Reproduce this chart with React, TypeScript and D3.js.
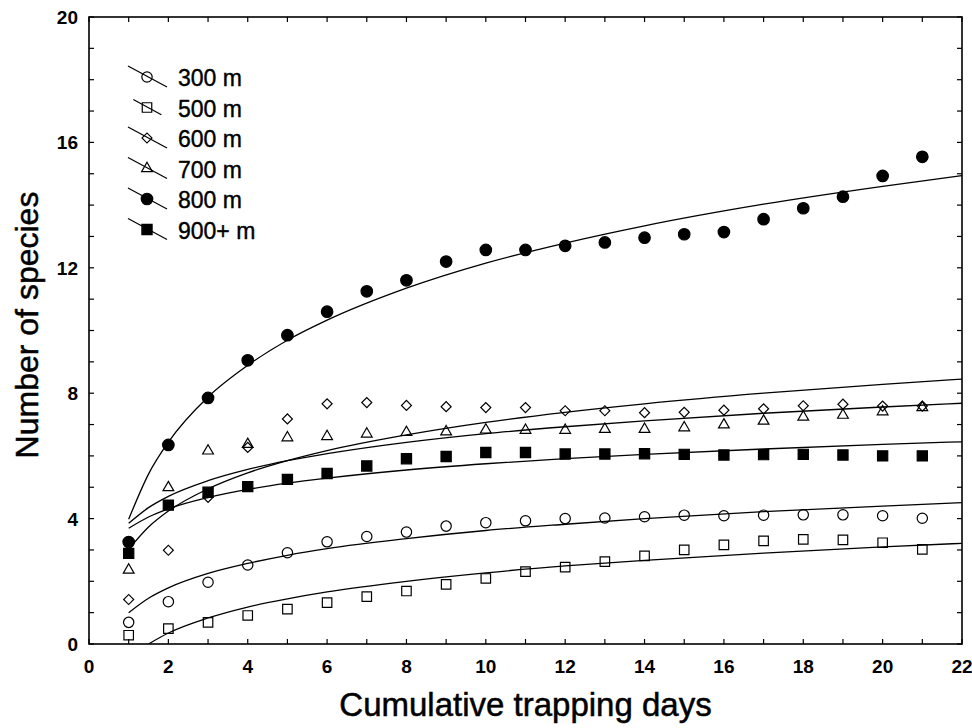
import * as d3 from "d3";

// observed cumulative species counts, day 1..21
const days = [1, 2, 3, 4, 5, 6, 7, 8, 9, 10, 11, 12, 13, 14, 15, 16, 17, 18, 19, 20, 21];

const s300 = [0.69, 1.35, 1.97, 2.52, 2.91, 3.26, 3.43, 3.57, 3.76, 3.87, 3.93, 4.0, 4.02, 4.06, 4.11, 4.09, 4.11, 4.12, 4.12, 4.09, 4.01];
const s500 = [0.28, 0.49, 0.69, 0.91, 1.11, 1.32, 1.51, 1.69, 1.9, 2.09, 2.31, 2.45, 2.63, 2.81, 3.0, 3.16, 3.29, 3.34, 3.32, 3.23, 3.02];
const s600 = [1.42, 2.99, 4.68, 6.27, 7.18, 7.66, 7.7, 7.61, 7.57, 7.54, 7.54, 7.44, 7.44, 7.38, 7.39, 7.46, 7.5, 7.6, 7.65, 7.59, 7.59];
const s700 = [2.36, 4.99, 6.16, 6.37, 6.58, 6.62, 6.7, 6.75, 6.77, 6.83, 6.82, 6.82, 6.85, 6.85, 6.9, 6.99, 7.11, 7.24, 7.3, 7.41, 7.54];
const s800 = [3.25, 6.35, 7.85, 9.05, 9.85, 10.6, 11.25, 11.6, 12.2, 12.57, 12.57, 12.7, 12.81, 12.96, 13.07, 13.14, 13.55, 13.9, 14.27, 14.93, 15.54];
const s900 = [2.89, 4.43, 4.84, 5.02, 5.25, 5.44, 5.68, 5.91, 5.98, 6.11, 6.11, 6.06, 6.06, 6.07, 6.05, 6.03, 6.04, 6.05, 6.03, 6.0, 6.0];

// fitted curves at these days
const fitDays = [1, 1.5, 2, 3, 4, 5, 6, 8, 10, 12, 14, 17, 20, 22];
const f300 = [1.0, 1.46, 1.79, 2.25, 2.57, 2.83, 3.04, 3.36, 3.62, 3.82, 4.0, 4.22, 4.4, 4.51];
const f500 = [null, 0.0, 0.35, 0.83, 1.18, 1.44, 1.66, 2.0, 2.27, 2.49, 2.67, 2.9, 3.1, 3.21];
const f600 = [3.02, 3.73, 4.24, 4.95, 5.46, 5.85, 6.17, 6.67, 7.07, 7.39, 7.66, 8.0, 8.28, 8.45];
const f700 = [3.85, 4.35, 4.71, 5.21, 5.57, 5.85, 6.07, 6.43, 6.71, 6.93, 7.12, 7.36, 7.56, 7.68];
const f800 = [3.98, 5.42, 6.44, 7.88, 8.89, 9.69, 10.33, 11.35, 12.15, 12.79, 13.34, 14.03, 14.6, 14.94];
const f900 = [3.69, 4.05, 4.31, 4.67, 4.93, 5.13, 5.29, 5.55, 5.75, 5.91, 6.05, 6.22, 6.37, 6.45];

const seriesNames = ["300 m", "500 m", "600 m", "700 m", "800 m", "900+ m"];
const xTickLabels = [0, 2, 4, 6, 8, 10, 12, 14, 16, 18, 20, 22];
const yTickLabels = [0, 4, 8, 12, 16, 20];

const W = 972;
const H = 728;
const font = "'Liberation Sans', Arial, sans-serif";

// marker styles
const markers = [
  { type: d3.symbolCircle, size: 84, filled: false, rot: 0 },
  { type: d3.symbolSquare, size: 90, filled: false, rot: 0 },
  { type: d3.symbolSquare, size: 50, filled: false, rot: 45 },
  { type: d3.symbolTriangle, size: 50, filled: false, rot: 0 },
  { type: d3.symbolCircle, size: 104, filled: true, rot: 0 },
  { type: d3.symbolSquare, size: 104, filled: true, rot: 0 },
];
const legendSpan = [1, 0.72, 1, 1, 1, 1];

export default function App() {
  const x = d3.scaleLinear([0, 22], [89, 962]);
  const y = d3.scaleLinear([0, 20], [644, 17]);

  const observed = [s300, s500, s600, s700, s800, s900];
  const fits = [f300, f500, f600, f700, f800, f900];

  const line = d3
    .line<[number, number | null]>()
    .defined((d) => d[1] != null)
    .x((d) => x(d[0]))
    .y((d) => y(d[1] as number))
    .curve(d3.curveMonotoneX);

  const symPath = (i: number) => d3.symbol().type(markers[i].type).size(markers[i].size)()!;

  const ticksX = d3.range(0, 23);
  const ticksY = d3.range(0, 21);
  const tl = 5;

  const marker = (i: number, cx: number, cy: number, key: string) => (
    <path
      key={key}
      d={symPath(i)}
      transform={`translate(${cx},${cy}) rotate(${markers[i].rot})`}
      fill={markers[i].filled ? "#000" : "none"}
      stroke="#000"
      strokeWidth={1.2}
    />
  );

  return (
    <svg width={W} height={H} style={{ position: "absolute", left: 0, top: 0, background: "#fff" }}>
      <defs>
        <clipPath id="plot">
          <rect x={89} y={17} width={873} height={627} />
        </clipPath>
      </defs>

      {/* ticks on all four sides, pointing inward */}
      <g stroke="#000" strokeWidth={1.2}>
        {ticksX.map((t) => (
          <g key={"tx" + t}>
            <line x1={x(t)} x2={x(t)} y1={y(0)} y2={y(0) - tl} />
            <line x1={x(t)} x2={x(t)} y1={y(20)} y2={y(20) + tl} />
          </g>
        ))}
        {ticksY.map((t) => (
          <g key={"ty" + t}>
            <line x1={x(0)} x2={x(0) + tl} y1={y(t)} y2={y(t)} />
            <line x1={x(22)} x2={x(22) - tl} y1={y(t)} y2={y(t)} />
          </g>
        ))}
      </g>
      <rect x={x(0)} y={y(20)} width={x(22) - x(0)} height={y(0) - y(20)} fill="none" stroke="#000" strokeWidth={1.6} />

      {/* tick labels */}
      <g fontFamily={font} fontWeight="bold" fontSize={19} fill="#000">
        {xTickLabels.map((t) => (
          <text key={"lx" + t} x={x(t)} y={673} textAnchor="middle">
            {t}
          </text>
        ))}
        {yTickLabels.map((t) => (
          <text key={"ly" + t} x={78} y={y(t) + 7} textAnchor="end">
            {t}
          </text>
        ))}
      </g>

      {/* axis titles */}
      <text
        x={(x(0) + x(22)) / 2}
        y={716}
        textAnchor="middle"
        fontFamily={font}
        fontSize={33}
        fill="#000"
        stroke="#000"
        strokeWidth={0.5}
      >
        Cumulative trapping days
      </text>
      <text
        transform={`translate(38,${325}) rotate(-90)`}
        textAnchor="middle"
        fontFamily={font}
        fontSize={32}
        fill="#000"
        stroke="#000"
        strokeWidth={0.5}
      >
        Number of species
      </text>

      {/* fitted curves */}
      <g clipPath="url(#plot)" fill="none" stroke="#000" strokeWidth={1.3}>
        {fits.map((f, i) => (
          <path key={"f" + i} d={line(fitDays.map((d, j) => [d, f[j]]))!} />
        ))}
      </g>

      {/* observed points */}
      <g>
        {observed.map((s, i) => s.map((v, j) => marker(i, x(days[j]), y(v), `m${i}-${j}`)))}
      </g>

      {/* legend */}
      <g>
        {seriesNames.map((name, i) => {
          const cy = 77 + i * 30.5;
          const cx = 147;
          const k = legendSpan[i];
          return (
            <g key={"lg" + i}>
              <line x1={cx - 19 * k} y1={cy - 11 * k} x2={cx + 20 * k} y2={cy + 10 * k} stroke="#000" strokeWidth={1.2} />
              {marker(i, cx, cy, "lm" + i)}
              <text x={178} y={cy + 9} fontFamily={font} fontSize={23} fill="#000" stroke="#000" strokeWidth={0.4}>
                {name}
              </text>
            </g>
          );
        })}
      </g>
    </svg>
  );
}
